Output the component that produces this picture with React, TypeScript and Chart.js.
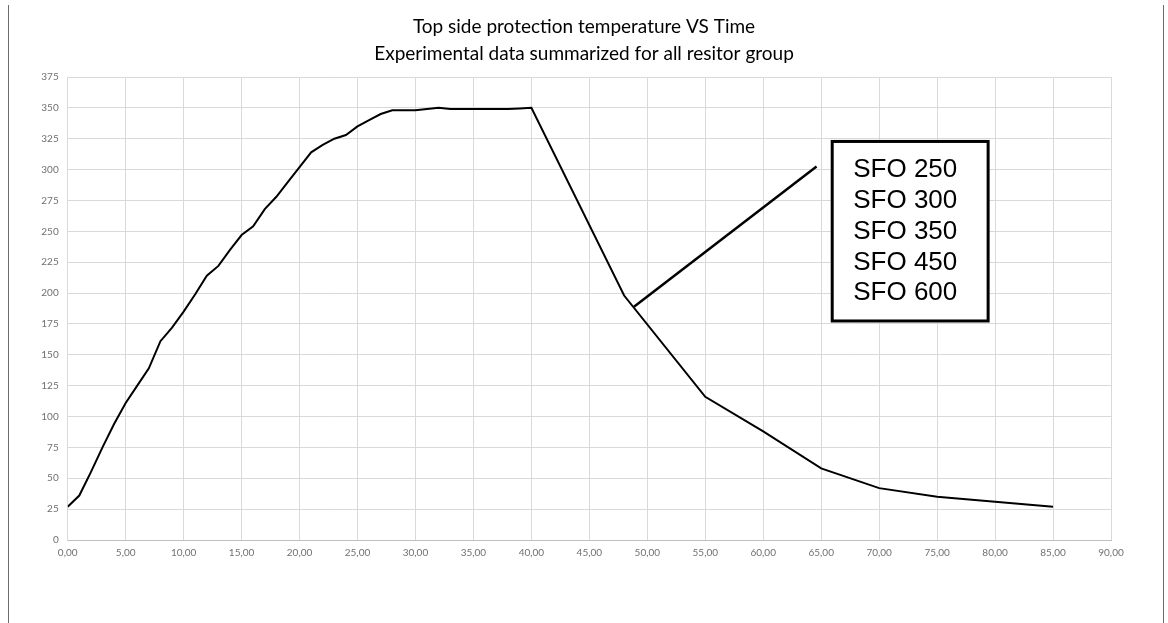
import React, { useEffect, useRef } from "react";
import { Chart, registerables } from "chart.js";

Chart.register(...registerables);

const TITLE_LINES = [
  "Top side protection temperature VS Time",
  "Experimental data summarized for all resitor group",
];

const TIME = [
  0, 1, 2, 3, 4, 5, 6, 7, 8, 9, 10, 11, 12, 13, 14, 15, 16, 17, 18, 19, 20,
  21, 22, 23, 24, 25, 26, 27, 28, 29, 30, 31, 32, 33, 34, 35, 36, 37, 38, 39,
  40, 48, 55, 60, 65, 70, 75, 80, 85,
];
const TEMPERATURE = [
  27, 36, 55, 75, 94, 111, 125, 139, 161, 172, 185, 199, 214, 222, 235, 247,
  254, 268, 278, 290, 302, 314, 320, 325, 328, 335, 340, 345, 348, 348, 348,
  349, 350, 349, 349, 349, 349, 349, 349, 349.5, 350, 198, 116, 88, 58, 42,
  35, 31, 27,
];

const LEGEND_LABELS = ["SFO 250", "SFO 300", "SFO 350", "SFO 450", "SFO 600"];

const X_MIN = 0;
const X_MAX = 90;
const X_STEP = 5;
const Y_MIN = 0;
const Y_MAX = 375;
const Y_STEP = 25;

// callout line and text box, in data units (time, temperature)
const CALLOUT_FROM = [48.85, 189];
const CALLOUT_TO = [64.6, 302.5];
const BOX_TOP_LEFT = [65.95, 322.8];
const BOX_BOTTOM_RIGHT = [79.4, 177.4];

const overlayPlugin = {
  id: "overlay",
  beforeDraw(chart: any) {
    const ctx = chart.ctx;
    ctx.save();
    ctx.fillStyle = "#ffffff";
    ctx.fillRect(0, 0, chart.width, chart.height);
    ctx.strokeStyle = "#6b6b6b";
    ctx.lineWidth = 1;
    ctx.beginPath();
    ctx.moveTo(8.5, 5);
    ctx.lineTo(8.5, chart.height);
    ctx.moveTo(1163.5, 5);
    ctx.lineTo(1163.5, chart.height);
    ctx.stroke();
    // title
    ctx.fillStyle = "#000000";
    ctx.font = "19px Lato";
    ctx.textAlign = "center";
    ctx.textBaseline = "middle";
    ctx.fillText(TITLE_LINES[0], 584, 27);
    ctx.fillText(TITLE_LINES[1], 584, 54);
    ctx.restore();
  },
  afterDatasetsDraw(chart: any) {
    const ctx = chart.ctx;
    const xs = chart.scales.x;
    const ys = chart.scales.y;
    const px = (v: number) => xs.getPixelForValue(v);
    const py = (v: number) => ys.getPixelForValue(v);
    ctx.save();
    ctx.strokeStyle = "#000000";
    ctx.lineWidth = 2.5;
    ctx.beginPath();
    ctx.moveTo(px(CALLOUT_FROM[0]), py(CALLOUT_FROM[1]));
    ctx.lineTo(px(CALLOUT_TO[0]), py(CALLOUT_TO[1]));
    ctx.stroke();
    const x1 = px(BOX_TOP_LEFT[0]);
    const y1 = py(BOX_TOP_LEFT[1]);
    const x2 = px(BOX_BOTTOM_RIGHT[0]);
    const y2 = py(BOX_BOTTOM_RIGHT[1]);
    ctx.fillStyle = "#ffffff";
    ctx.fillRect(x1, y1, x2 - x1, y2 - y1);
    ctx.lineWidth = 3;
    ctx.strokeRect(x1, y1, x2 - x1, y2 - y1);
    ctx.fillStyle = "#000000";
    ctx.font = "26px 'Liberation Sans'";
    ctx.textAlign = "left";
    ctx.textBaseline = "alphabetic";
    LEGEND_LABELS.forEach((t, i) => {
      ctx.fillText(t, x1 + 21, y1 + 36 + i * 30.7);
    });
    ctx.restore();
  },
};

export default function App() {
  const ref = useRef<HTMLCanvasElement | null>(null);
  useEffect(() => {
    document.body.style.margin = "0";
    const canvas = ref.current;
    if (!canvas) return;
    const chart = new Chart(canvas, {
      type: "scatter",
      data: {
        datasets: [
          {
            data: TIME.map((t, i) => ({ x: t, y: TEMPERATURE[i] })),
            showLine: true,
            borderColor: "#000000",
            borderWidth: 2,
            pointRadius: 0,
            tension: 0,
          },
        ],
      },
      options: {
        responsive: false,
        animation: false,
        devicePixelRatio: 1,
        layout: { padding: { left: 0, top: 77, right: 57, bottom: 0 } },
        plugins: {
          legend: { display: false },
          tooltip: { enabled: false },
          title: { display: false },
        },
        scales: {
          x: {
            type: "linear",
            min: X_MIN,
            max: X_MAX,
            afterFit: (s: any) => {
              s.height = 83;
            },
            afterBuildTicks: (s: any) => {
              const t = [];
              for (let v = X_MIN; v <= X_MAX; v += X_STEP) t.push({ value: v });
              s.ticks = t;
            },
            ticks: {
              stepSize: X_STEP,
              maxRotation: 0,
              autoSkip: false,
              color: "#707070",
              font: { family: "Lato", size: 10 },
              padding: 7,
              callback: (v: any) => Number(v).toFixed(2).replace(".", ","),
            },
            grid: { color: "#d9d9d9", lineWidth: 1, drawTicks: false },
            border: { color: "#bfbfbf", width: 1 },
          },
          y: {
            min: Y_MIN,
            max: Y_MAX,
            afterFit: (s: any) => {
              s.width = 67.7;
            },
            afterBuildTicks: (s: any) => {
              const t = [];
              for (let v = Y_MIN; v <= Y_MAX; v += Y_STEP) t.push({ value: v });
              s.ticks = t;
            },
            ticks: {
              stepSize: Y_STEP,
              autoSkip: false,
              color: "#707070",
              font: { family: "Lato", size: 10 },
              padding: 9,
            },
            grid: { color: "#d9d9d9", lineWidth: 1, drawTicks: false },
            border: { color: "#d9d9d9", width: 1 },
          },
        },
      },
      plugins: [overlayPlugin],
    });
    return () => chart.destroy();
  }, []);
  return (
    <canvas
      ref={ref}
      width={1168}
      height={623}
      style={{ display: "block", width: 1168, height: 623 }}
    />
  );
}
